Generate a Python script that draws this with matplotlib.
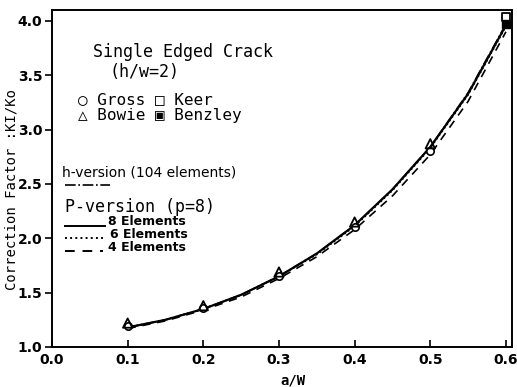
import matplotlib
matplotlib.use("Agg")
import matplotlib.pyplot as plt
import numpy as np

# reference data points (a/W vs KI/Ko)
gross_x = [0.1, 0.2, 0.3, 0.4, 0.5]
gross_y = [1.19, 1.36, 1.65, 2.10, 2.80]
bowie_x = [0.1, 0.2, 0.3, 0.4, 0.5]
bowie_y = [1.22, 1.38, 1.69, 2.15, 2.87]
keer_x = [0.6]
keer_y = [4.04]
benzley_x = [0.6]
benzley_y = [3.97]

# computed curves
curve_x = [0.10, 0.15, 0.20, 0.25, 0.30, 0.35, 0.40, 0.45, 0.50, 0.55, 0.60]
p8_y = [1.18, 1.25, 1.35, 1.48, 1.65, 1.86, 2.12, 2.45, 2.84, 3.33, 3.96]
p6_y = [1.18, 1.25, 1.35, 1.48, 1.65, 1.85, 2.11, 2.44, 2.83, 3.32, 3.95]
p4_y = [1.17, 1.24, 1.34, 1.46, 1.63, 1.83, 2.08, 2.39, 2.77, 3.26, 3.90]
h_y = [1.18, 1.25, 1.35, 1.48, 1.65, 1.86, 2.12, 2.45, 2.84, 3.34, 3.97]

xticks = [0.0, 0.1, 0.2, 0.3, 0.4, 0.5, 0.6]
yticks = [1.0, 1.5, 2.0, 2.5, 3.0, 3.5, 4.0]

fig = plt.figure(figsize=(5.17, 3.87), dpi=100)
ax = fig.add_axes([0.1006, 0.1034, 0.8897, 0.8706])

ax.plot(curve_x, h_y, color='k', lw=1.2, ls='-.')
ax.plot(curve_x, p8_y, color='k', lw=1.6, ls='-')
ax.plot(curve_x, p6_y, color='k', lw=1.2, ls=':')
ax.plot(curve_x, p4_y, color='k', lw=1.2, ls=(0, (5, 4)))

ax.scatter(gross_x, gross_y, marker='o', s=28, facecolors='white', edgecolors='k', lw=1.2, zorder=3)
ax.scatter(bowie_x, bowie_y, marker='^', s=45, facecolors='none', edgecolors='k', lw=1.3, zorder=4)
ax.scatter(keer_x, keer_y, marker='s', s=40, facecolors='white', edgecolors='k', lw=1.3, zorder=4, clip_on=False)
ax.scatter(benzley_x, benzley_y, marker='s', s=30, facecolors='k', edgecolors='k', lw=1.0, zorder=4, clip_on=False)

ax.set_xlim(0.0, 0.608)
ax.set_ylim(1.0, 4.1)
ax.set_xticks(xticks)
ax.set_yticks(yticks)
ax.set_xticklabels([f"{v:.1f}" for v in xticks], fontweight='bold', fontsize=10)
ax.set_yticklabels([f"{v:.1f}" for v in yticks], fontweight='bold', fontsize=10)
ax.tick_params(axis='x', direction='in', length=5, width=1.2, pad=4)
ax.tick_params(axis='y', direction='out', length=5, width=1.2, pad=2)
for s in ax.spines.values():
    s.set_linewidth(1.4)

mono = 'DejaVu Sans Mono'
ax.text(0.089, 0.875, "Single Edged Crack", transform=ax.transAxes, family=mono, fontsize=12, va='center')
ax.text(0.126, 0.816, "(h/w=2)", transform=ax.transAxes, family=mono, fontsize=12, va='center')
ax.text(0.057, 0.733, "\u25cb Gross \u25a1 Keer", transform=ax.transAxes, family=mono, fontsize=11.5, va='center')
ax.text(0.057, 0.688, "\u25b3 Bowie \u25a3 Benzley", transform=ax.transAxes, family=mono, fontsize=11.5, va='center')

ax.text(0.022, 0.519, "h-version (104 elements)", transform=ax.transAxes, fontsize=10, va='center')
ax.plot([0.028, 0.126], [0.481, 0.481], transform=ax.transAxes, color='k', lw=1.2, ls='-.')

ax.text(0.028, 0.415, "P-version (p=8)", transform=ax.transAxes, family=mono, fontsize=12, va='center')
ax.plot([0.028, 0.115], [0.359, 0.359], transform=ax.transAxes, color='k', lw=1.4, ls='-')
ax.text(0.122, 0.372, "8 Elements", transform=ax.transAxes, fontsize=9, fontweight='bold', va='center')
ax.plot([0.028, 0.11], [0.324, 0.324], transform=ax.transAxes, color='k', lw=1.4, ls=':')
ax.text(0.126, 0.335, "6 Elements", transform=ax.transAxes, fontsize=9, fontweight='bold', va='center')
ax.plot([0.028, 0.11], [0.285, 0.285], transform=ax.transAxes, color='k', lw=1.4, ls=(0, (5, 4)))
ax.text(0.122, 0.296, "4 Elements", transform=ax.transAxes, fontsize=9, fontweight='bold', va='center')

fig.text(12 / 517, 1 - 190 / 387, "Correction Factor :KI/Ko", rotation=90, family=mono, fontsize=10,
         ha='center', va='center')
fig.text(293 / 517, 1 - 380 / 387, "a/W", family=mono, fontsize=10, fontweight='bold', ha='center', va='center')

fig.savefig("out.png", dpi=100)
